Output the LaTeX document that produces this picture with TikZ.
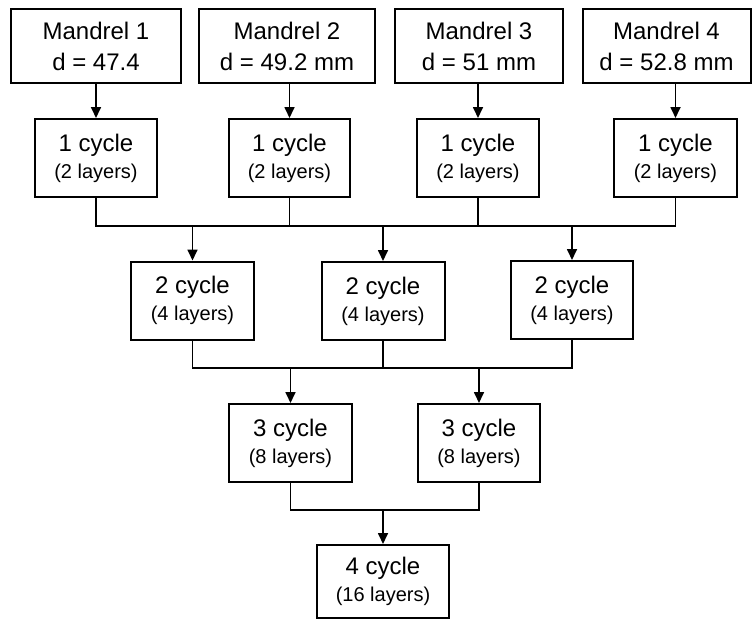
\documentclass[tikz,border=0pt]{standalone}
\usepackage{fontspec}
\setmainfont{Liberation Sans}
\usetikzlibrary{arrows.meta}
\tikzset{
  bx/.style={draw=black, line width=2pt, rectangle, inner sep=0pt, align=center, fill=white},
  mandrel/.style={bx, font=\fontsize{24}{31}\selectfont},
  cyc/.style={bx, font=\fontsize{24}{27}\selectfont},
  conn/.style={draw=black, line width=1.7pt},
  arr/.style={conn, -{Triangle[length=11pt,width=10pt]}},
}
\newcommand{\sub}[1]{{\fontsize{20}{27}\selectfont #1}}
\begin{document}
\begin{tikzpicture}[x=1pt,y=-1pt]
\useasboundingbox[fill=white] (0,0) rectangle (752,621);
% row 1
\node[mandrel, minimum width=170pt, minimum height=74pt] (M1) at (96,46) {Mandrel 1\\d = 47.4};
\node[mandrel, minimum width=176pt, minimum height=74pt] (M2) at (287,46) {Mandrel 2\\d = 49.2 mm};
\node[mandrel, minimum width=168pt, minimum height=74pt] (M3) at (479,46) {Mandrel 3\\d = 51 mm};
\node[mandrel, minimum width=168pt, minimum height=74pt] (M4) at (666.5,46) {Mandrel 4\\d = 52.8 mm};
% row 2
\node[cyc, minimum width=122pt, minimum height=78pt] (C1a) at (96,158) {1 cycle\\\sub{(2 layers)}};
\node[cyc, minimum width=121pt, minimum height=78pt] (C1b) at (289.5,158) {1 cycle\\\sub{(2 layers)}};
\node[cyc, minimum width=122pt, minimum height=78pt] (C1c) at (478,158) {1 cycle\\\sub{(2 layers)}};
\node[cyc, minimum width=123pt, minimum height=78pt] (C1d) at (675.5,158) {1 cycle\\\sub{(2 layers)}};
% row 3
\node[cyc, minimum width=123pt, minimum height=78pt] (C2a) at (192.5,300.5) {2 cycle\\\sub{(4 layers)}};
\node[cyc, minimum width=123pt, minimum height=78pt] (C2b) at (383,301) {2 cycle\\\sub{(4 layers)}};
\node[cyc, minimum width=122pt, minimum height=78pt] (C2c) at (572,300) {2 cycle\\\sub{(4 layers)}};
% row 4
\node[cyc, minimum width=123pt, minimum height=78pt] (C3a) at (290.5,443) {3 cycle\\\sub{(8 layers)}};
\node[cyc, minimum width=122pt, minimum height=78pt] (C3b) at (479,443) {3 cycle\\\sub{(8 layers)}};
% row 5
\node[cyc, minimum width=132pt, minimum height=73pt] (C4) at (383,581.5) {4 cycle\\\sub{(16 layers)}};
% junction coordinates
\coordinate (J1) at (0,226);
\coordinate (J2) at (0,368);
\coordinate (J3) at (0,510);
% mandrel -> 1 cycle
\draw[arr] (M1.south -| C1a.north) -- (C1a.north);
\draw[arr] (M2.south -| C1b.north) -- (C1b.north);
\draw[arr] (M3.south -| C1c.north) -- (C1c.north);
\draw[arr] (M4.south -| C1d.north) -- (C1d.north);
% bus 1
\draw[conn] (C1a.south) |- (C1d.south |- J1) -- (C1d.south);
\draw[conn] (C1b.south) -- (C1b.south |- J1);
\draw[conn] (C1c.south) -- (C1c.south |- J1);
\draw[arr] (C2a.north |- J1) -- (C2a.north);
\draw[arr] (C2b.north |- J1) -- (C2b.north);
\draw[arr] (C2c.north |- J1) -- (C2c.north);
% bus 2
\draw[conn] (C2a.south) |- (C2c.south |- J2) -- (C2c.south);
\draw[conn] (C2b.south) -- (C2b.south |- J2);
\draw[arr] (C3a.north |- J2) -- (C3a.north);
\draw[arr] (C3b.north |- J2) -- (C3b.north);
% bus 3
\draw[conn] (C3a.south) |- (C3b.south |- J3) -- (C3b.south);
\draw[arr] (C4.north |- J3) -- (C4.north);
\end{tikzpicture}
\end{document}
